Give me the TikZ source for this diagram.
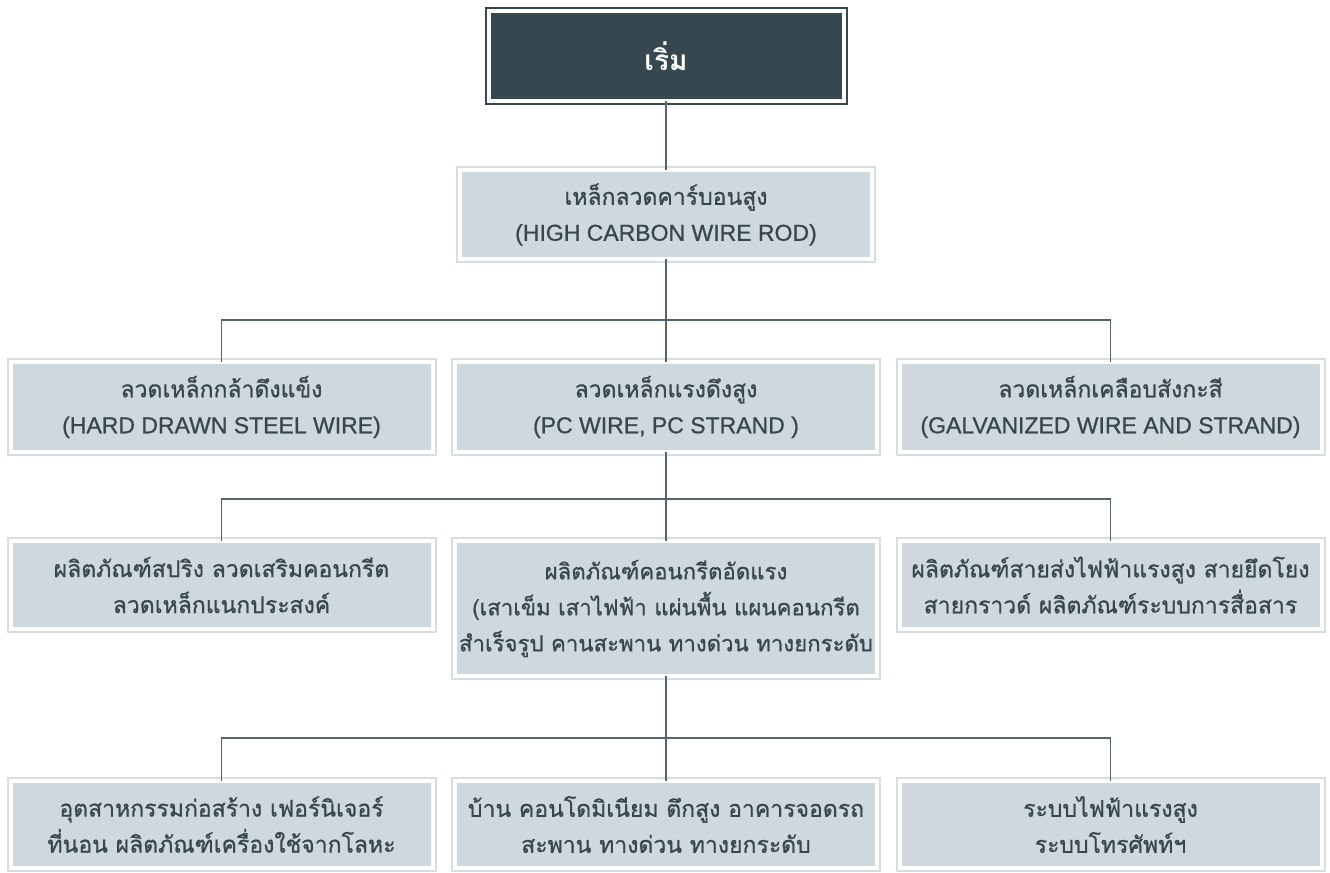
\documentclass[tikz,border=0pt]{standalone}
\usepackage{fontspec}
\setmainfont{Liberation Sans}[FakeBold=0.8]
\newfontfamily\thai[Script=Thai,FakeBold=0.8]{Loma}
\newfontfamily\thaibold[Script=Thai]{Loma Bold}
\usetikzlibrary{positioning}
\definecolor{boxfill}{HTML}{CFD8DC}
\definecolor{boxline}{HTML}{D7DEE2}
\definecolor{darkfill}{HTML}{37474F}
\definecolor{txt}{HTML}{37474F}
\definecolor{wire}{HTML}{56646C}

\begin{document}
\begin{tikzpicture}[base/.style = {rectangle, inner sep=0pt, outer sep=0pt, align=center, minimum width=211pt, minimum height=45pt, draw=white, line width=2pt, font=\fontsize{11.5pt}{18pt}\selectfont},
        box/.style = {base, fill=boxfill, text=txt, preaction={draw=boxline, line width=4pt}},
        thbox/.style = {box, font=\thai\fontsize{11.5pt}{18pt}\selectfont},
        startbox/.style = {base, fill=darkfill, text=white, preaction={draw=darkfill, line width=4pt}},
        conn/.style = {draw=wire, line width=0.75pt}]
        \useasboundingbox (0,0) rectangle (665pt,-436.5pt);
        \node[startbox, minimum width=177.5pt, anchor=north] (st) at (333pt,-5.5pt) {\thaibold\fontsize{14pt}{18pt}\selectfont เริ่ม};
        \node[box, minimum width=206pt, minimum height=44.5pt] (hc) [below=34.5pt of st] {{\thai เหล็กลวดคาร์บอนสูง}\\(HIGH CARBON WIRE ROD)};
        \node[box] (pc) [below=51.5pt of hc] {{\thai ลวดเหล็กแรงดึงสูง}\\(PC WIRE, PC STRAND )};
        \node[box] (hd) [left=11.25pt of pc] {{\thai ลวดเหล็กกล้าดึงแข็ง}\\(HARD DRAWN STEEL WIRE)};
        \node[box] (gw) [right=11.25pt of pc] {{\thai ลวดเหล็กเคลือบสังกะสี}\\(GALVANIZED WIRE AND STRAND)};
        \node[thbox, minimum height=67.5pt, font=\thai\fontsize{11.1pt}{18pt}\selectfont] (pp) [below=44.5pt of pc] {ผลิตภัณฑ์คอนกรีตอัดแรง\\(เสาเข็ม เสาไฟฟ้า แผ่นพื้น แผนคอนกรีต\\สำเร็จรูป คานสะพาน ทางด่วน ทางยกระดับ};
        \node[thbox, minimum height=44pt] (sp) [below=44.5pt of hd] {ผลิตภัณฑ์สปริง ลวดเสริมคอนกรีต\\ลวดเหล็กแนกประสงค์};
        \node[thbox, minimum height=44pt] (pw) [below=44.5pt of gw] {ผลิตภัณฑ์สายส่งไฟฟ้าแรงสูง สายยึดโยง\\สายกราวด์ ผลิตภัณฑ์ระบบการสื่อสาร};
        \node[thbox, minimum height=43.5pt] (bd) [below=52.5pt of pp] {บ้าน คอนโดมิเนียม ตึกสูง อาคารจอดรถ\\สะพาน ทางด่วน ทางยกระดับ};
        \node[thbox, minimum height=43.5pt] (in) [left=11.25pt of bd] {อุตสาหกรรมก่อสร้าง เฟอร์นิเจอร์\\ที่นอน ผลิตภัณฑ์เครื่องใช้จากโลหะ};
        \node[thbox, minimum height=43.5pt] (el) [right=11.25pt of bd] {ระบบไฟฟ้าแรงสูง\\ระบบโทรศัพท์ฯ};
        \draw[conn] (st) -- (hc);
        \draw[conn] (hc) -- (pc);
        \draw[conn] (hd.north) |- ([yshift=-30.5pt]hc.south) -| (gw.north);
        \draw[conn] (pc) -- (pp);
        \draw[conn] (sp.north) |- ([yshift=-23.5pt]pc.south) -| (pw.north);
        \draw[conn] (pp) -- (bd);
        \draw[conn] (in.north) |- ([yshift=-31pt]pp.south) -| (el.north);
        \end{tikzpicture}
\end{document}
